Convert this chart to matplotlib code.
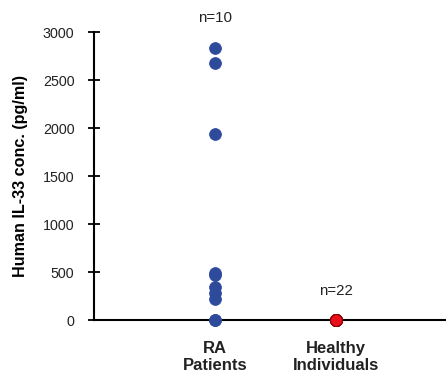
import numpy as np
import matplotlib.pyplot as plt

plt.rcParams['font.family'] = ['Liberation Sans', 'DejaVu Sans']

# data
groups = ['RA\nPatients', 'Healthy\nIndividuals']
ra_values = [2830, 2680, 1940, 490, 470, 340, 280, 215, 0, 0]
healthy_values = [0] * 22
n_labels = ['n=10', 'n=22']
n_label_y = [3150, 300]
colors = ['#2E4A9B', '#E8101A']
edges = ['#2E4A9B', '#8B0000']

fig = plt.figure(figsize=(4.46, 3.72), dpi=100)
ax = fig.add_axes([94 / 446, 52 / 372, 352 / 446, 288 / 372])

for i, vals in enumerate([ra_values, healthy_values]):
    ax.scatter(np.full(len(vals), i + 1), vals, s=72, color=colors[i],
               edgecolors=edges[i], linewidths=0.6, zorder=3, clip_on=False)
    ax.text(i + 1, n_label_y[i], n_labels[i], ha='center', va='center',
            fontsize=10.8, color='#222222')

ax.set_xlim(0, 352 / 121)
ax.set_ylim(0, 3000)
ax.set_yticks(np.arange(0, 3001, 500))
ax.set_xticks([1, 2])
ax.set_xticklabels(groups, fontweight='bold', fontsize=12, color='#222222',
                   linespacing=1.15)
ax.tick_params(axis='x', length=0, pad=15)
ax.tick_params(axis='y', direction='inout', length=8, width=1.3,
               labelsize=10.3, colors='black', labelcolor='#222222', pad=10)

for s in ['top', 'right']:
    ax.spines[s].set_visible(False)
for s in ['left', 'bottom']:
    ax.spines[s].set_linewidth(1.5)

ax.set_ylabel('Human IL-33 conc. (pg/ml)', fontweight='bold', fontsize=11.6)
ax.yaxis.set_label_coords(-0.1875, 0.5)

fig.savefig('out.png', dpi=100)
